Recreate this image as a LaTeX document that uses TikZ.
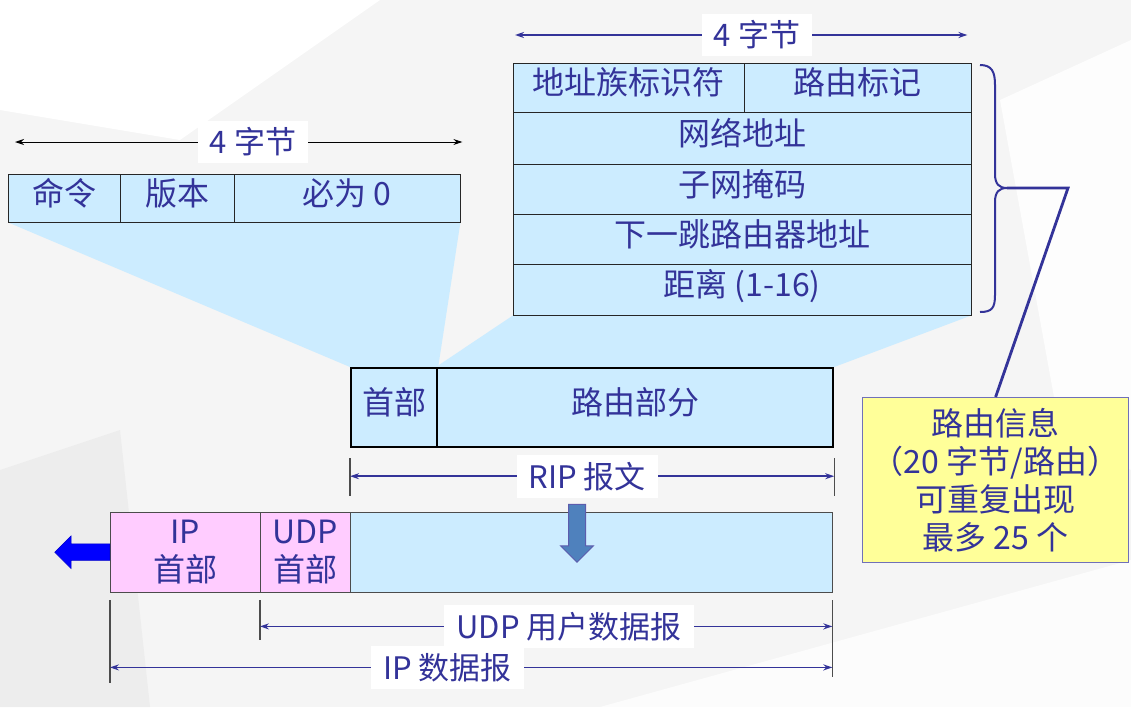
\documentclass[tikz,border=0pt]{standalone}
\usepackage{fontspec}
\setmainfont{Noto Sans CJK SC}
\usetikzlibrary{positioning,arrows.meta,shapes.arrows,calc}
\definecolor{ripnavy}{HTML}{333399}
\definecolor{ripblue}{HTML}{CCECFF}
\definecolor{rippink}{HTML}{FFCCFF}
\definecolor{ripyellow}{HTML}{FFFF99}
\definecolor{ripsteel}{HTML}{4F81BD}
\pgfdeclarelayer{bg}
\pgfsetlayers{bg,main}
\tikzset{
  cell/.style={draw=black!85,fill=ripblue,text=ripnavy,inner sep=0pt,anchor=north west,
    font=\fontsize{32}{38}\selectfont,align=center},
  lift/.style={text height=26pt,text depth=12pt},
  dimline/.style={draw=ripnavy,line width=1.6pt,{Stealth[length=9pt,width=6pt]}-{Stealth[length=9pt,width=6pt]}},
  dimlabel/.style={fill=white,text=ripnavy,inner xsep=12pt,inner ysep=7pt,font=\fontsize{31}{34}\selectfont},
  endtick/.style={draw=black!70,line width=1.2pt},
}

\begin{document}
\begin{tikzpicture}[x=1pt,y=-1pt]
\useasboundingbox (0,0) rectangle (1131,707);
\begin{pgfonlayer}{bg}
\fill[black!4] (0,0) rectangle (1131,707);
\fill[white] (0,0) -- (380,0) -- (180,140) -- (0,110) -- cycle;
\fill[white,opacity=.8] (1000,100) -- (1131,40) -- (1131,470) -- (1060,430) -- cycle;
\fill[black!7] (0,470) -- (120,430) -- (150,707) -- (0,707) -- cycle;
\fill[white,opacity=.7] (600,707) -- (1131,560) -- (1131,707) -- cycle;
\end{pgfonlayer}

% RIP header fields
\node[cell,lift,minimum width=112,minimum height=48] (cmd) at (8,174) {命令};
\node[cell,lift,minimum width=114,minimum height=48] (ver) at (120,174) {版本};
\node[cell,lift,minimum width=226,minimum height=48] (zero) at (234,174) {必为 0};

% route entry
\node[cell,lift,minimum width=231,minimum height=49] (fam) at (513,63) {地址族标识符};
\node[cell,lift,minimum width=227,minimum height=49] (flag) at (744,63) {路由标记};
\foreach \nm/\y/\h/\txt in {net/112/52/网络地址,mask/164/50/子网掩码,next/214/50/下一跳路由器地址,dist/264/51/距离 (1-16)}{
  \node[cell,lift,minimum width=458,minimum height=\h] (\nm) at (513,\y) {\txt};
}

% RIP message
\node[cell,lift,draw=black,line width=2.2pt,minimum width=86,minimum height=79] (hdr) at (350,367) {首部};
\node[cell,lift,draw=black,line width=2.2pt,minimum width=396,minimum height=79] (route) at (436,367) {路由部分};

% UDP / IP datagram
\node[cell,draw=black!70,fill=rippink,minimum width=150,minimum height=80] (iphdr) at (110,512) {IP\\首部};
\node[cell,draw=black!70,fill=rippink,minimum width=90,minimum height=80] (udphdr) at (260,512) {UDP\\首部};
\node[cell,draw=black!70,minimum width=482,minimum height=80] (data) at (350,512) {};

\node[single arrow,shape border rotate=270,fill=ripsteel,draw=ripnavy!80,line width=1pt,
  minimum height=58,minimum width=32,single arrow head extend=8pt,inner sep=8pt] (down) at (577,529) {};
\node[single arrow,shape border rotate=180,fill=blue,draw=blue!80!black,line width=.5pt,
  minimum height=55,minimum width=32,single arrow head extend=8pt,inner sep=8pt,anchor=tail] (out) at (iphdr.west) {};

% route info note
\node[draw=ripnavy!70,line width=1.2pt,fill=ripyellow,text=ripnavy,minimum width=266,minimum height=165,
  inner sep=0pt,anchor=north west,align=center,font=\fontsize{32}{38}\selectfont] (info) at (862,397)
  {路由信息\\（20 字节/路由）\\可重复出现\\最多 25 个};

% projections
\begin{pgfonlayer}{bg}
\fill[ripblue] (cmd.south west) -- (zero.south east) -- (hdr.north east) -- (hdr.north west) -- cycle;
\fill[ripblue] (dist.south west) -- (dist.south east) -- (route.north east) -- (route.north west) -- cycle;
\end{pgfonlayer}

% brace and leader
\draw[ripnavy,line width=2pt] (980,65) .. controls (992,65) and (995,72) .. (995,85) -- (995,174)
  .. controls (995,184) and (999,188) .. (1007,188) .. controls (999,188) and (995,192) .. (995,202)
  -- (995,295) .. controls (995,308) and (992,312) .. (980,312);
\coordinate (tip) at (1007,188);
\coordinate (knee) at (1068,188);
\draw[ripnavy,line width=2.8pt] (tip) -- (knee) -- (info.north);

% byte widths
\draw[dimline,draw=black,line width=1pt] ($(cmd.north west)+(7,-32)$) -- ($(zero.north east)+(2,-32)$)
  node[dimlabel,pos=0.532] (bytesL) {4 字节};
\draw[dimline] ($(fam.north west)+(2,-28)$) -- ($(flag.north east)+(-4,-28)$)
  node[dimlabel,pos=0.535] (bytesR) {4 字节};

% lengths
\draw[endtick] ($(hdr.south west)+(0,10)$) coordinate (ripA) -- ++(0,38);
\draw[endtick] ($(route.south east)+(0,10)$) coordinate (ripB) -- ++(0,38);
\draw[dimline] ($(ripA)+(0,18)$) -- ($(ripB)+(0,18)$) node[dimlabel,pos=0.49] (riplen) {RIP 报文};

\draw[endtick] ($(udphdr.south west)+(0,8)$) coordinate (udpA) -- ++(0,40);
\draw[endtick] ($(data.south east)+(0,8)$) coordinate (udpB) -- ++(0,77);
\draw[endtick] ($(iphdr.south west)+(0,8)$) coordinate (ipA) -- ++(0,83);
\draw[dimline] ($(udpA)+(0,26)$) -- ($(udpB)+(0,26)$) node[dimlabel,pos=0.54] (udplen) {UDP 用户数据报};
\draw[dimline] ($(ipA)+(0,67)$) -- ($(udpB)+(0,67)$) node[dimlabel,pos=0.467] (iplen) {IP 数据报};
\end{tikzpicture}
\end{document}
